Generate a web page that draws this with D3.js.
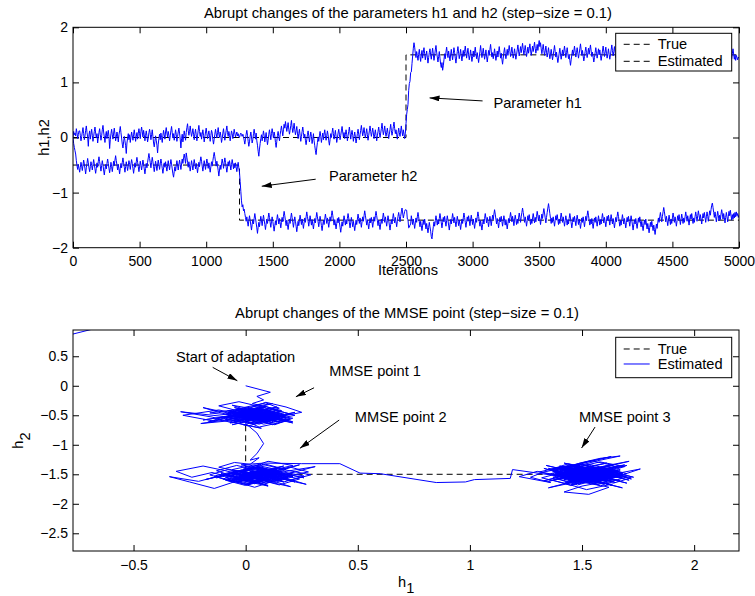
<!DOCTYPE html>
<html>
<head>
<meta charset="utf-8">
<script src="https://cdn.jsdelivr.net/npm/d3@7"></script>
<style>
  body { margin: 0; background: #fff; }
  svg text { font-family: "Liberation Sans", Arial, Helvetica, sans-serif; font-size: 14.6px; fill: #000; }
</style>
</head>
<body>
<svg id="chart" width="755" height="596"></svg>
<script>
// estimates sampled every 5 iterations (index i -> iteration i*5)
const iterStep = 5;

const h1Est = [
  // 0 - 1245
  0.00, 0.11, 0.05, 0.08, 0.03, 0.16, 0.09, -0.02, 0.05, 0.12,
  0.12, 0.04, -0.06, 0.02, 0.10, 0.18, 0.07, -0.04, 0.03, 0.13,
  0.21, 0.09, 0.01, -0.16, 0.05, 0.12, -0.03, 0.06, 0.15, 0.04,
  -0.07, 0.02, 0.11, 0.19, 0.08, -0.01, 0.07, -0.10, 0.00, 0.09,
  0.16, 0.05, -0.05, 0.03, 0.14, 0.22, 0.10, 0.01, -0.09, 0.04,
  0.11, -0.02, 0.06, 0.13, 0.02, -0.20, -0.04, 0.07, 0.15, 0.05,
  -0.03, 0.08, 0.17, 0.06, -0.06, 0.01, 0.10, 0.03, -0.08, 0.05,
  0.12, 0.20, 0.09, -0.01, -0.12, -0.19, -0.08, 0.02, -0.06, -0.15,
  -0.29, -0.10, -0.01, 0.07, -0.04, 0.05, -0.09, 0.01, 0.10, 0.03,
  -0.05, 0.06, 0.14, 0.04, -0.07, 0.02, 0.09, -0.03, 0.08, 0.16,
  0.07, -0.02, 0.11, 0.19, 0.10, 0.01, 0.13, 0.05, -0.06, 0.04,
  0.12, 0.03, -0.08, -0.01, 0.09, 0.15, 0.06, -0.04, 0.05, 0.14,
  0.02, -0.10, -0.17, -0.07, 0.03, -0.05, -0.14, -0.28, -0.12, -0.02,
  0.06, -0.04, 0.08, 0.00, -0.09, 0.04, 0.13, 0.05, -0.03, 0.10,
  0.18, 0.08, 0.01, 0.11, 0.04, -0.06, 0.03, 0.12, 0.20, 0.09,
  -0.01, 0.07, -0.05, 0.04, 0.14, 0.06, -0.07, 0.02, 0.10, 0.17,
  0.08, -0.03, -0.19, -0.02, 0.06, -0.08, 0.01, 0.12, 0.04, -0.05,
  0.09, 0.18, 0.25, 0.13, 0.04, 0.11, 0.21, 0.10, 0.02, 0.08,
  0.16, 0.06, -0.04, 0.07, 0.15, 0.05, -0.06, 0.03, 0.13, 0.22,
  0.11, 0.02, 0.09, -0.03, 0.06, 0.14, 0.04, -0.08, 0.01, 0.10,
  0.17, 0.07, -0.02, 0.05, 0.12, 0.03, -0.07, 0.04, 0.13, 0.08,
  -0.04, -0.12, -0.03, 0.06, 0.15, 0.07, -0.01, 0.09, 0.18, 0.06,
  0.00, 0.10, 0.03, -0.09, -0.02, 0.08, 0.16, 0.05, -0.05, 0.04,
  0.13, 0.21, 0.09, 0.02, 0.11, 0.04, -0.06, 0.03, 0.12, 0.07,
  -0.02, 0.06, 0.15, 0.08, 0.01, 0.05, 0.10, 0.03, 0.07, 0.02,
  // 1250 - 2495
  0.00, 0.05, 0.08, 0.05, 0.02, 0.06, 0.02, -0.05, -0.12, -0.03,
  0.06, 0.13, 0.04, -0.07, -0.16, -0.08, 0.02, 0.10, 0.01, -0.10,
  -0.04, 0.07, 0.15, 0.06, -0.03, 0.08, -0.06, -0.14, -0.25, -0.34,
  -0.21, -0.11, -0.02, 0.05, -0.06, 0.03, 0.12, 0.04, -0.08, 0.01,
  0.09, -0.02, -0.13, -0.05, 0.06, 0.14, 0.05, -0.04, 0.07, 0.16,
  0.08, -0.01, 0.10, 0.03, -0.09, -0.18, -0.07, 0.04, 0.11, 0.02,
  -0.06, 0.05, 0.13, 0.21, 0.12, 0.03, 0.14, 0.24, 0.17, 0.29,
  0.20, 0.11, 0.19, 0.27, 0.15, 0.06, 0.13, 0.22, 0.31, 0.18,
  0.09, 0.17, 0.26, 0.14, 0.05, 0.12, 0.20, 0.08, -0.02, 0.07,
  0.15, 0.04, -0.07, 0.02, 0.11, 0.19, 0.09, -0.01, 0.06, -0.05,
  -0.13, -0.04, 0.05, 0.12, 0.03, -0.08, 0.01, 0.10, 0.02, -0.11,
  -0.03, 0.07, -0.06, -0.15, -0.24, -0.31, -0.19, -0.09, 0.01, -0.07,
  0.03, 0.11, 0.02, -0.09, 0.00, 0.08, -0.04, 0.06, 0.14, 0.04,
  -0.05, 0.03, 0.12, 0.05, -0.06, -0.14, -0.04, 0.07, 0.00, 0.09,
  0.17, 0.07, -0.03, 0.05, 0.13, 0.02, -0.09, -0.01, 0.08, 0.15,
  0.06, -0.04, 0.04, 0.12, 0.20, 0.10, 0.01, 0.09, -0.02, 0.06,
  0.14, 0.05, -0.06, 0.03, 0.11, 0.19, 0.08, -0.03, 0.06, 0.13,
  0.04, -0.07, 0.02, 0.10, 0.01, -0.10, -0.02, 0.07, 0.15, 0.06,
  -0.04, 0.05, 0.13, 0.22, 0.12, 0.03, 0.10, 0.18, 0.07, -0.01,
  0.08, 0.16, 0.05, -0.05, 0.04, 0.12, 0.21, 0.11, 0.02, 0.09,
  0.17, 0.08, -0.02, 0.06, 0.14, 0.04, -0.06, 0.03, 0.11, 0.19,
  0.09, 0.00, 0.08, 0.16, 0.26, 0.14, 0.05, 0.12, 0.21, 0.10,
  0.02, 0.09, 0.17, 0.07, -0.02, 0.06, 0.15, 0.24, 0.13, 0.04,
  0.11, 0.20, 0.28, 0.16, 0.07, 0.14, 0.05, -0.03, 0.08, 0.17,
  0.09, 0.02, 0.12, 0.21, 0.10, 0.03, 0.14, 0.06, -0.02, 0.08,
  // 2500 - 5000
  0.25, 0.42, 0.51, 0.60, 0.85, 0.98, 1.02, 1.18, 1.19, 1.34,
  1.48, 1.62, 1.72, 1.64, 1.53, 1.45, 1.56, 1.49, 1.40, 1.51,
  1.60, 1.47, 1.38, 1.50, 1.58, 1.44, 1.55, 1.63, 1.52, 1.41,
  1.49, 1.57, 1.46, 1.35, 1.45, 1.54, 1.61, 1.50, 1.42, 1.53,
  1.62, 1.51, 1.40, 1.48, 1.59, 1.67, 1.55, 1.46, 1.37, 1.47,
  1.56, 1.44, 1.33, 1.27, 1.36, 1.22, 1.30, 1.41, 1.52, 1.43,
  1.55, 1.64, 1.53, 1.45, 1.57, 1.48, 1.39, 1.50, 1.60, 1.49,
  1.41, 1.52, 1.63, 1.54, 1.44, 1.35, 1.46, 1.56, 1.65, 1.53,
  1.43, 1.51, 1.60, 1.48, 1.39, 1.50, 1.58, 1.47, 1.56, 1.66,
  1.55, 1.44, 1.53, 1.62, 1.50, 1.41, 1.49, 1.59, 1.48, 1.38,
  1.47, 1.57, 1.46, 1.55, 1.64, 1.52, 1.43, 1.54, 1.45, 1.36,
  1.46, 1.56, 1.67, 1.55, 1.45, 1.53, 1.62, 1.51, 1.42, 1.50,
  1.59, 1.48, 1.37, 1.47, 1.58, 1.49, 1.60, 1.69, 1.57, 1.46,
  1.54, 1.43, 1.52, 1.61, 1.50, 1.40, 1.48, 1.57, 1.46, 1.55,
  1.65, 1.54, 1.44, 1.53, 1.42, 1.33, 1.44, 1.55, 1.63, 1.52,
  1.43, 1.51, 1.60, 1.49, 1.58, 1.67, 1.56, 1.47, 1.55, 1.64,
  1.53, 1.44, 1.52, 1.61, 1.51, 1.42, 1.50, 1.59, 1.68, 1.57,
  1.48, 1.56, 1.65, 1.54, 1.62, 1.71, 1.60, 1.50, 1.58, 1.67,
  1.57, 1.47, 1.55, 1.64, 1.53, 1.61, 1.70, 1.59, 1.49, 1.57,
  1.66, 1.56, 1.64, 1.73, 1.62, 1.53, 1.61, 1.69, 1.58, 1.68,
  1.76, 1.65, 1.72, 1.61, 1.52, 1.60, 1.69, 1.58, 1.49, 1.57,
  1.66, 1.55, 1.46, 1.54, 1.63, 1.52, 1.43, 1.51, 1.60, 1.50,
  1.41, 1.49, 1.58, 1.67, 1.56, 1.46, 1.55, 1.45, 1.36, 1.44,
  1.53, 1.62, 1.51, 1.42, 1.50, 1.59, 1.48, 1.57, 1.66, 1.55,
  1.45, 1.54, 1.63, 1.52, 1.43, 1.51, 1.40, 1.31, 1.41, 1.50,
  1.59, 1.49, 1.57, 1.66, 1.55, 1.46, 1.54, 1.63, 1.53, 1.44,
  1.52, 1.61, 1.70, 1.59, 1.49, 1.58, 1.48, 1.39, 1.47, 1.56,
  1.64, 1.54, 1.45, 1.53, 1.62, 1.51, 1.60, 1.68, 1.57, 1.47,
  1.55, 1.46, 1.37, 1.45, 1.54, 1.63, 1.53, 1.44, 1.52, 1.61,
  1.50, 1.59, 1.49, 1.40, 1.48, 1.57, 1.66, 1.56, 1.47, 1.55,
  1.64, 1.53, 1.44, 1.52, 1.61, 1.51, 1.42, 1.50, 1.59, 1.68,
  1.58, 1.48, 1.56, 1.65, 1.54, 1.45, 1.53, 1.43, 1.34, 1.43,
  1.52, 1.61, 1.50, 1.59, 1.68, 1.57, 1.47, 1.55, 1.64, 1.53,
  1.44, 1.52, 1.42, 1.51, 1.60, 1.49, 1.58, 1.67, 1.56, 1.46,
  1.54, 1.63, 1.52, 1.43, 1.51, 1.41, 1.32, 1.42, 1.51, 1.60,
  1.50, 1.58, 1.67, 1.56, 1.47, 1.55, 1.64, 1.53, 1.44, 1.52,
  1.61, 1.51, 1.42, 1.50, 1.59, 1.68, 1.57, 1.48, 1.56, 1.46,
  1.37, 1.45, 1.54, 1.63, 1.52, 1.43, 1.51, 1.60, 1.70, 1.59,
  1.49, 1.57, 1.47, 1.38, 1.46, 1.55, 1.64, 1.54, 1.45, 1.53,
  1.62, 1.52, 1.61, 1.71, 1.60, 1.50, 1.58, 1.48, 1.39, 1.47,
  1.56, 1.65, 1.55, 1.46, 1.54, 1.63, 1.53, 1.44, 1.52, 1.42,
  1.33, 1.42, 1.51, 1.60, 1.50, 1.59, 1.68, 1.58, 1.49, 1.57,
  1.47, 1.56, 1.65, 1.55, 1.46, 1.54, 1.44, 1.35, 1.44, 1.53,
  1.62, 1.52, 1.43, 1.51, 1.61, 1.70, 1.60, 1.51, 1.59, 1.49,
  1.40, 1.48, 1.57, 1.47, 1.56, 1.65, 1.55, 1.46, 1.54, 1.44,
  1.53, 1.62, 1.52, 1.43, 1.51, 1.60, 1.50, 1.41, 1.49, 1.58,
  1.67, 1.57, 1.48, 1.56, 1.46, 1.37, 1.45, 1.54, 1.63, 1.53,
  1.44, 1.52, 1.61, 1.51, 1.42, 1.50, 1.59, 1.49, 1.40, 1.48,
  1.57, 1.66, 1.56, 1.47, 1.55, 1.45, 1.36, 1.44, 1.53, 1.43,
  1.52, 1.61, 1.51, 1.42, 1.50, 1.40, 1.49, 1.45, 1.41, 1.46,
  1.44
];

const h2Est = [
  // 0 - 1245
  0.00, -0.11, -0.18, -0.24, -0.30, -0.42, -0.51, -0.58, -0.49, -0.56,
  -0.63, -0.54, -0.45, -0.52, -0.60, -0.50, -0.41, -0.48, -0.57, -0.66,
  -0.55, -0.47, -0.38, -0.46, -0.55, -0.62, -0.53, -0.44, -0.51, -0.59,
  -0.49, -0.40, -0.48, -0.57, -0.65, -0.56, -0.46, -0.54, -0.43, -0.35,
  -0.44, -0.52, -0.61, -0.51, -0.42, -0.50, -0.59, -0.68, -0.58, -0.49,
  -0.57, -0.47, -0.39, -0.47, -0.56, -0.64, -0.55, -0.45, -0.53, -0.62,
  -0.52, -0.43, -0.51, -0.41, -0.33, -0.42, -0.50, -0.59, -0.49, -0.57,
  -0.66, -0.56, -0.47, -0.55, -0.45, -0.37, -0.46, -0.54, -0.63, -0.53,
  -0.44, -0.52, -0.60, -0.51, -0.42, -0.49, -0.58, -0.48, -0.40, -0.47,
  -0.56, -0.65, -0.55, -0.46, -0.54, -0.44, -0.36, -0.45, -0.53, -0.62,
  -0.52, -0.43, -0.51, -0.59, -0.50, -0.41, -0.48, -0.57, -0.66, -0.56,
  -0.47, -0.55, -0.45, -0.37, -0.29, -0.38, -0.46, -0.55, -0.45, -0.36,
  -0.44, -0.53, -0.62, -0.52, -0.43, -0.51, -0.60, -0.50, -0.41, -0.49,
  -0.58, -0.48, -0.39, -0.47, -0.56, -0.65, -0.55, -0.46, -0.54, -0.44,
  -0.53, -0.61, -0.51, -0.42, -0.50, -0.59, -0.49, -0.40, -0.48, -0.57,
  -0.66, -0.72, -0.62, -0.53, -0.61, -0.51, -0.42, -0.50, -0.59, -0.49,
  -0.41, -0.49, -0.58, -0.48, -0.39, -0.47, -0.37, -0.30, -0.38, -0.47,
  -0.28, -0.36, -0.45, -0.54, -0.44, -0.52, -0.61, -0.51, -0.42, -0.50,
  -0.59, -0.49, -0.40, -0.48, -0.57, -0.47, -0.55, -0.64, -0.54, -0.45,
  -0.53, -0.43, -0.35, -0.43, -0.52, -0.61, -0.51, -0.42, -0.50, -0.58,
  -0.48, -0.39, -0.47, -0.56, -0.46, -0.54, -0.63, -0.53, -0.44, -0.52,
  -0.42, -0.34, -0.27, -0.35, -0.44, -0.52, -0.43, -0.51, -0.60, -0.70,
  -0.59, -0.50, -0.58, -0.48, -0.39, -0.47, -0.56, -0.46, -0.37, -0.45,
  -0.54, -0.63, -0.53, -0.44, -0.52, -0.42, -0.50, -0.59, -0.49, -0.40,
  -0.48, -0.57, -0.47, -0.55, -0.46, -0.54, -0.62, -0.52, -0.45, -0.55,
  // 1250 - 2495
  -0.64, -0.80, -0.98, -1.15, -1.26, -1.22, -1.33, -1.30, -1.38, -1.45,
  -1.52, -1.44, -1.53, -1.61, -1.51, -1.42, -1.50, -1.59, -1.68, -1.58,
  -1.49, -1.57, -1.47, -1.38, -1.46, -1.55, -1.64, -1.74, -1.63, -1.54,
  -1.62, -1.52, -1.43, -1.51, -1.60, -1.50, -1.41, -1.49, -1.58, -1.67,
  -1.57, -1.48, -1.56, -1.46, -1.37, -1.45, -1.54, -1.63, -1.53, -1.44,
  -1.52, -1.61, -1.70, -1.60, -1.51, -1.59, -1.49, -1.40, -1.48, -1.57,
  -1.47, -1.55, -1.64, -1.54, -1.45, -1.53, -1.43, -1.34, -1.42, -1.51,
  -1.60, -1.50, -1.58, -1.67, -1.57, -1.48, -1.56, -1.46, -1.37, -1.45,
  -1.54, -1.63, -1.53, -1.44, -1.52, -1.61, -1.71, -1.61, -1.52, -1.60,
  -1.50, -1.41, -1.49, -1.58, -1.48, -1.56, -1.65, -1.55, -1.46, -1.54,
  -1.44, -1.35, -1.43, -1.52, -1.61, -1.51, -1.42, -1.50, -1.59, -1.49,
  -1.57, -1.66, -1.56, -1.47, -1.55, -1.45, -1.36, -1.44, -1.53, -1.62,
  -1.52, -1.43, -1.51, -1.60, -1.69, -1.59, -1.50, -1.58, -1.48, -1.39,
  -1.47, -1.56, -1.46, -1.54, -1.63, -1.53, -1.44, -1.52, -1.42, -1.33,
  -1.41, -1.50, -1.59, -1.49, -1.57, -1.66, -1.56, -1.47, -1.55, -1.45,
  -1.54, -1.63, -1.72, -1.62, -1.53, -1.61, -1.51, -1.42, -1.50, -1.59,
  -1.49, -1.57, -1.47, -1.38, -1.46, -1.55, -1.64, -1.54, -1.45, -1.53,
  -1.62, -1.52, -1.60, -1.69, -1.59, -1.50, -1.58, -1.48, -1.39, -1.47,
  -1.56, -1.46, -1.54, -1.63, -1.53, -1.44, -1.52, -1.42, -1.33, -1.41,
  -1.50, -1.59, -1.49, -1.57, -1.66, -1.56, -1.47, -1.55, -1.45, -1.54,
  -1.63, -1.53, -1.44, -1.52, -1.42, -1.34, -1.42, -1.51, -1.60, -1.50,
  -1.58, -1.67, -1.57, -1.48, -1.56, -1.46, -1.37, -1.45, -1.54, -1.44,
  -1.52, -1.61, -1.51, -1.42, -1.50, -1.59, -1.68, -1.58, -1.49, -1.57,
  -1.47, -1.38, -1.46, -1.55, -1.45, -1.53, -1.62, -1.52, -1.43, -1.36,
  -1.44, -1.53, -1.43, -1.35, -1.28, -1.37, -1.46, -1.40, -1.34, -1.31,
  // 2500 - 5000
  -1.32, -1.32, -1.48, -1.49, -1.64, -1.63, -1.59, -1.57, -1.42, -1.50,
  -1.58, -1.48, -1.56, -1.65, -1.55, -1.46, -1.54, -1.44, -1.36, -1.44,
  -1.53, -1.62, -1.52, -1.60, -1.69, -1.59, -1.50, -1.58, -1.48, -1.57,
  -1.66, -1.56, -1.64, -1.73, -1.63, -1.54, -1.62, -1.70, -1.80, -1.84,
  -1.72, -1.62, -1.53, -1.61, -1.51, -1.42, -1.50, -1.59, -1.49, -1.57,
  -1.47, -1.38, -1.46, -1.55, -1.64, -1.54, -1.45, -1.53, -1.43, -1.52,
  -1.61, -1.51, -1.42, -1.50, -1.59, -1.68, -1.58, -1.49, -1.57, -1.47,
  -1.38, -1.46, -1.55, -1.45, -1.53, -1.62, -1.52, -1.43, -1.51, -1.60,
  -1.50, -1.58, -1.67, -1.57, -1.48, -1.56, -1.46, -1.37, -1.45, -1.54,
  -1.63, -1.53, -1.44, -1.52, -1.42, -1.51, -1.60, -1.50, -1.41, -1.49,
  -1.58, -1.48, -1.56, -1.65, -1.55, -1.46, -1.54, -1.44, -1.35, -1.43,
  -1.52, -1.61, -1.51, -1.59, -1.68, -1.58, -1.49, -1.57, -1.47, -1.38,
  -1.46, -1.55, -1.45, -1.53, -1.62, -1.52, -1.43, -1.51, -1.60, -1.50,
  -1.41, -1.49, -1.39, -1.31, -1.39, -1.48, -1.57, -1.47, -1.55, -1.64,
  -1.54, -1.45, -1.53, -1.43, -1.52, -1.61, -1.51, -1.42, -1.50, -1.59,
  -1.49, -1.57, -1.66, -1.56, -1.47, -1.55, -1.45, -1.36, -1.44, -1.53,
  -1.43, -1.51, -1.60, -1.50, -1.41, -1.49, -1.58, -1.48, -1.56, -1.46,
  -1.37, -1.45, -1.54, -1.44, -1.36, -1.28, -1.36, -1.45, -1.54, -1.44,
  -1.52, -1.61, -1.51, -1.42, -1.50, -1.40, -1.49, -1.58, -1.48, -1.56,
  -1.46, -1.38, -1.46, -1.55, -1.45, -1.53, -1.43, -1.34, -1.42, -1.51,
  -1.41, -1.49, -1.58, -1.48, -1.39, -1.47, -1.37, -1.29, -1.37, -1.46,
  -1.55, -1.45, -1.36, -1.28, -1.20, -1.29, -1.38, -1.47, -1.56, -1.46,
  -1.54, -1.44, -1.52, -1.61, -1.51, -1.42, -1.50, -1.40, -1.49, -1.58,
  -1.48, -1.56, -1.46, -1.37, -1.45, -1.54, -1.44, -1.52, -1.61, -1.51,
  -1.42, -1.50, -1.59, -1.49, -1.57, -1.47, -1.38, -1.46, -1.55, -1.64,
  -1.54, -1.45, -1.53, -1.43, -1.51, -1.60, -1.50, -1.41, -1.49, -1.58,
  -1.48, -1.56, -1.65, -1.55, -1.46, -1.54, -1.44, -1.53, -1.62, -1.52,
  -1.43, -1.51, -1.41, -1.33, -1.41, -1.50, -1.59, -1.49, -1.57, -1.47,
  -1.56, -1.65, -1.55, -1.46, -1.54, -1.44, -1.52, -1.61, -1.51, -1.42,
  -1.50, -1.59, -1.49, -1.57, -1.47, -1.38, -1.46, -1.55, -1.45, -1.53,
  -1.62, -1.52, -1.43, -1.51, -1.41, -1.50, -1.59, -1.49, -1.40, -1.48,
  -1.57, -1.47, -1.55, -1.64, -1.54, -1.45, -1.53, -1.43, -1.35, -1.43,
  -1.52, -1.61, -1.51, -1.59, -1.49, -1.40, -1.48, -1.57, -1.47, -1.55,
  -1.64, -1.54, -1.45, -1.53, -1.43, -1.52, -1.61, -1.51, -1.42, -1.50,
  -1.59, -1.68, -1.58, -1.49, -1.57, -1.47, -1.56, -1.65, -1.55, -1.46,
  -1.54, -1.44, -1.53, -1.62, -1.52, -1.60, -1.69, -1.59, -1.50, -1.58,
  -1.48, -1.57, -1.66, -1.56, -1.64, -1.73, -1.63, -1.54, -1.62, -1.52,
  -1.60, -1.69, -1.59, -1.67, -1.76, -1.66, -1.57, -1.65, -1.55, -1.46,
  -1.54, -1.44, -1.36, -1.44, -1.53, -1.43, -1.35, -1.27, -1.35, -1.44,
  -1.53, -1.43, -1.51, -1.60, -1.50, -1.41, -1.49, -1.58, -1.48, -1.56,
  -1.46, -1.37, -1.45, -1.54, -1.44, -1.52, -1.61, -1.51, -1.42, -1.50,
  -1.40, -1.49, -1.58, -1.48, -1.39, -1.47, -1.56, -1.46, -1.54, -1.44,
  -1.35, -1.43, -1.52, -1.42, -1.50, -1.59, -1.49, -1.40, -1.48, -1.38,
  -1.47, -1.56, -1.46, -1.54, -1.44, -1.35, -1.43, -1.52, -1.42, -1.33,
  -1.41, -1.50, -1.40, -1.48, -1.57, -1.47, -1.38, -1.46, -1.36, -1.45,
  -1.54, -1.44, -1.35, -1.43, -1.52, -1.42, -1.33, -1.41, -1.31, -1.23,
  -1.19, -1.27, -1.36, -1.45, -1.35, -1.44, -1.53, -1.43, -1.34, -1.42,
  -1.51, -1.41, -1.49, -1.39, -1.31, -1.39, -1.48, -1.38, -1.46, -1.55,
  -1.45, -1.36, -1.44, -1.53, -1.43, -1.34, -1.42, -1.32, -1.41, -1.50,
  -1.40, -1.48, -1.38, -1.46, -1.36, -1.44, -1.35, -1.42, -1.38, -1.45,
  -1.41
];

// true parameter paths
const h1TrueIter = [0, 2500, 2500, 5000];
const h1True = [0, 0, 1.5, 1.5];
const h2TrueIter = [0, 1250, 1250, 5000];
const h2True = [-0.5, -0.5, -1.5, -1.5];
const mmseTrueH1 = [0, 0, 1.5];
const mmseTrueH2 = [-0.5, -1.5, -1.5];
// short piece entering through the upper-left corner of the lower plot
const strayH1 = [-0.85, -0.62];
const strayH2 = [0.80, 1.02];

const topXTicks = [0, 500, 1000, 1500, 2000, 2500, 3000, 3500, 4000, 4500, 5000];
const topYTicks = [-2, -1, 0, 1, 2];
const botXTicks = [-0.5, 0, 0.5, 1, 1.5, 2];
const botYTicks = [-2.5, -2, -1.5, -1, -0.5, 0, 0.5];

const blue = "#0000ff";
const fontStack = '"Liberation Sans", Arial, Helvetica, sans-serif';
const svg = d3.select("#chart");
const n = Math.min(h1Est.length, h2Est.length);
const est = d3.range(n).map(i => ({it: i * iterStep, h1: h1Est[i], h2: h2Est[i]}));

svg.append("defs").append("marker")
    .attr("id", "arrow")
    .attr("markerUnits", "userSpaceOnUse")
    .attr("markerWidth", 10).attr("markerHeight", 6)
    .attr("refX", 10).attr("refY", 3)
    .attr("orient", "auto")
  .append("path").attr("d", "M0,0L10,3L0,6Z").attr("fill", "#000");

let fmt = d => String(d).replace("-", "\u2212");

function frame(g, x, y, xt, yt, w, h, xPad) {
    g.append("g").attr("transform", "translate(0," + h + ")")
        .call(d3.axisBottom(x).tickValues(xt).tickFormat(fmt).tickSizeInner(-6).tickSizeOuter(0).tickPadding(xPad));
    g.append("g")
        .call(d3.axisTop(x).tickValues(xt).tickFormat("").tickSizeInner(-6).tickSizeOuter(0));
    g.append("g")
        .call(d3.axisLeft(y).tickValues(yt).tickFormat(fmt).tickSizeInner(-6).tickSizeOuter(0).tickPadding(5));
    g.append("g").attr("transform", "translate(" + w + ",0)")
        .call(d3.axisRight(y).tickValues(yt).tickFormat("").tickSizeInner(-6).tickSizeOuter(0));
    g.selectAll(".domain").remove();
    g.selectAll("g").attr("font-size", 14).attr("font-family", fontStack);
    g.selectAll(".tick text").style("font-size", "14px");
}

function box(g, w, h) {
    g.append("rect").attr("width", w).attr("height", h)
        .attr("fill", "none").attr("stroke", "#000").attr("stroke-width", 1);
}

function arrow(g, x1, y1, x2, y2) {
    g.append("line").attr("x1", x1).attr("y1", y1).attr("x2", x2).attr("y2", y2)
        .attr("stroke", "#000").attr("stroke-width", 1).attr("marker-end", "url(#arrow)");
}

function legend(g, x0, y0, w, h, rows) {
    let lg = g.append("g").attr("transform", "translate(" + x0 + "," + y0 + ")");
    lg.append("rect").attr("width", w).attr("height", h)
        .attr("fill", "#fff").attr("stroke", "#000");
    rows.forEach(r => {
        lg.append("line").attr("x1", 8).attr("x2", 34).attr("y1", r.dy).attr("y2", r.dy)
            .attr("stroke", r.color).attr("stroke-dasharray", r.dash);
        lg.append("text").attr("x", 42).attr("y", r.dy + 5).text(r.label);
    });
}

// ---------- top: h1,h2 versus iterations ----------
let topM = {left: 73, top: 27.3}, topW = 666, topH = 220.4;
let gTop = svg.append("g").attr("transform", "translate(" + topM.left + "," + topM.top + ")");
let xIt = d3.scaleLinear().domain([0, 5000]).range([0, topW]);
let yH = d3.scaleLinear().domain([-2, 2]).range([topH, 0]);

gTop.append("clipPath").attr("id", "clipTop").append("rect").attr("width", topW).attr("height", topH);
frame(gTop, xIt, yH, topXTicks, topYTicks, topW, topH, 8);

let plotTop = gTop.append("g").attr("clip-path", "url(#clipTop)");
let trueLine = (xs, ys) => d3.line().x((d, i) => xIt(xs[i])).y((d, i) => yH(ys[i]))(ys);
plotTop.append("path").attr("d", trueLine(h1TrueIter, h1True))
    .attr("fill", "none").attr("stroke", "#000").attr("stroke-dasharray", "6,4");
plotTop.append("path").attr("d", trueLine(h2TrueIter, h2True))
    .attr("fill", "none").attr("stroke", "#000").attr("stroke-dasharray", "6,4");
["h1", "h2"].forEach(k => {
    plotTop.append("path").datum(est)
        .attr("d", d3.line().x(d => xIt(d.it)).y(d => yH(d[k])))
        .attr("fill", "none").attr("stroke", blue).attr("stroke-width", 1);
});
box(gTop, topW, topH);

gTop.append("text").attr("x", topW / 2 + 2).attr("y", 18 - topM.top).attr("text-anchor", "middle")
    .style("font-size", "14.8px")
    .text("Abrupt changes of the parameters h1 and h2 (step\u2212size = 0.1)");
gTop.append("text").attr("x", topW / 2 + 2).attr("y", topH + 27).attr("text-anchor", "middle").text("Iterations");
gTop.append("text").attr("transform", "translate(" + (49 - topM.left) + "," + topH / 2 + ") rotate(-90)")
    .attr("text-anchor", "middle").text("h1,h2");

gTop.append("text").attr("x", xIt(3157)).attr("y", yH(0.53)).text("Parameter h1");
arrow(gTop, xIt(3075), yH(0.664), xIt(2677), yH(0.719));
gTop.append("text").attr("x", xIt(1922)).attr("y", yH(-0.793)).text("Parameter h2");
arrow(gTop, xIt(1822), yH(-0.757), xIt(1417), yH(-0.884));

legend(gTop, 615.7 - topM.left, 33.3 - topM.top, 116, 37.7, [
    {label: "True", dy: 11, color: "#000", dash: "6,4"},
    {label: "Estimated", dy: 28, color: "#000", dash: "6,4"}
]);

// ---------- bottom: h2 versus h1 ----------
let botM = {left: 73, top: 330}, botW = 666, botH = 221;
let gBot = svg.append("g").attr("transform", "translate(" + botM.left + "," + botM.top + ")");
let xH1 = d3.scaleLinear().domain([-0.77, 2.2]).range([0, botW]);
let yH2 = d3.scaleLinear().domain([-2.8, 0.945]).range([botH, 0]);

gBot.append("clipPath").attr("id", "clipBot").append("rect").attr("width", botW).attr("height", botH);
frame(gBot, xH1, yH2, botXTicks, botYTicks, botW, botH, 9);

let plotBot = gBot.append("g").attr("clip-path", "url(#clipBot)");
plotBot.append("path").attr("d", d3.line().x((d, i) => xH1(mmseTrueH1[i])).y(d => yH2(d))(mmseTrueH2))
    .attr("fill", "none").attr("stroke", "#000").attr("stroke-dasharray", "6,4");
plotBot.append("path").datum(est)
    .attr("d", d3.line().x(d => xH1(d.h1)).y(d => yH2(d.h2)))
    .attr("fill", "none").attr("stroke", blue).attr("stroke-width", 1);
plotBot.append("path").attr("d", d3.line().x((d, i) => xH1(strayH1[i])).y(d => yH2(d))(strayH2))
    .attr("fill", "none").attr("stroke", blue).attr("stroke-width", 1);
box(gBot, botW, botH);

gBot.append("text").attr("x", botW / 2 + 1).attr("y", 318 - botM.top).attr("text-anchor", "middle")
    .style("font-size", "14.8px")
    .text("Abrupt changes of the MMSE point (step\u2212size = 0.1)");
let xl = gBot.append("text").attr("x", 398 - botM.left).attr("y", 587 - botM.top);
xl.append("tspan").text("h");
xl.append("tspan").attr("dy", 6).text("1");
let yl = gBot.append("text").attr("transform", "translate(" + (23 - botM.left) + "," + botH / 2 + ") rotate(-90)")
    .attr("text-anchor", "middle");
yl.append("tspan").text("h");
yl.append("tspan").attr("dy", 7).text("2");

gBot.append("text").attr("x", xH1(-0.311)).attr("y", yH2(0.401)).text("Start of adaptation");
arrow(gBot, xH1(-0.147), yH2(0.312), xH1(-0.037), yH2(0.085));
gBot.append("text").attr("x", xH1(0.373)).attr("y", yH2(0.164)).text("MMSE point 1");
arrow(gBot, xH1(0.305), yH2(-0.034), xH1(0.224), yH2(-0.186));
gBot.append("text").attr("x", xH1(0.487)).attr("y", yH2(-0.615)).text("MMSE point 2");
arrow(gBot, xH1(0.417), yH2(-0.581), xH1(0.242), yH2(-1.06));
gBot.append("text").attr("x", xH1(1.486)).attr("y", yH2(-0.615)).text("MMSE point 3");
arrow(gBot, xH1(1.558), yH2(-0.70), xH1(1.498), yH2(-1.055));

legend(gBot, 615.7 - botM.left, 337.3 - botM.top, 116, 40.4, [
    {label: "True", dy: 11.7, color: "#000", dash: "6,4"},
    {label: "Estimated", dy: 26.7, color: blue, dash: null}
]);
</script>
</body>
</html>
